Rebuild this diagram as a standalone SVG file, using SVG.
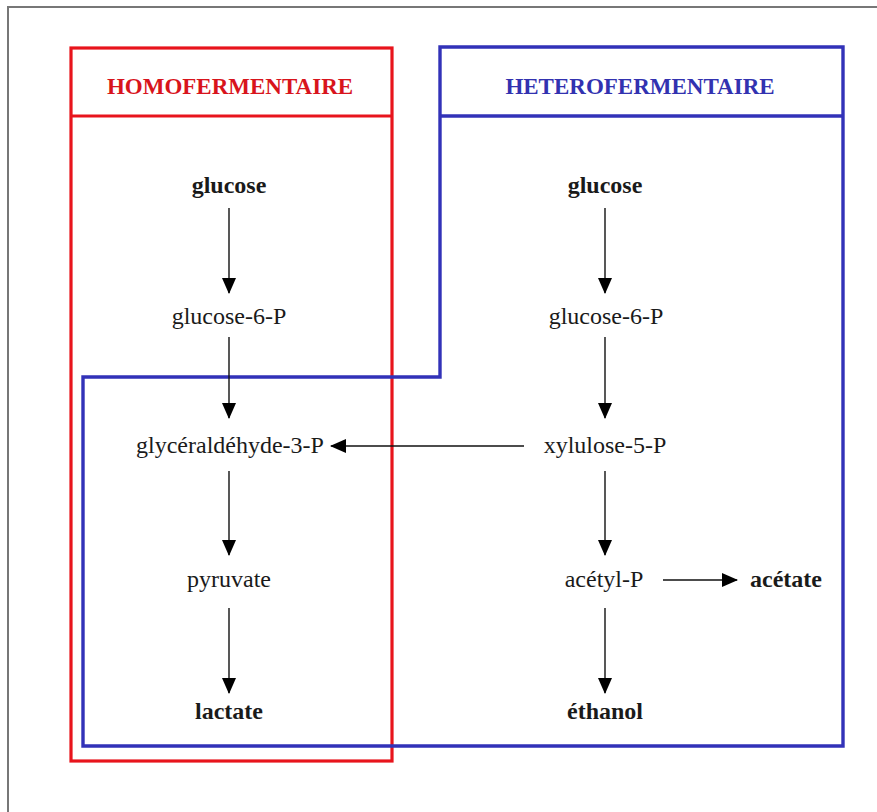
<svg xmlns="http://www.w3.org/2000/svg" width="877" height="812" viewBox="0 0 877 812">
<defs>
<style>
text{font-family:"Liberation Serif","Times New Roman",serif;font-size:24px;fill:#1a1a1a;text-anchor:middle}
.b{font-weight:bold}
.h{font-weight:bold;font-size:23px}
.conn line{stroke:#111;stroke-width:1.4}
</style>
<marker id="ah" viewBox="0 0 16 14" refX="15" refY="7" markerWidth="16" markerHeight="14" markerUnits="userSpaceOnUse" orient="auto">
<path d="M0,0 L16,7 L0,14 Z" fill="#000"/>
</marker>
</defs>
<rect x="0" y="0" width="877" height="812" fill="#fff"/>
<path d="M8,812 V7 H877" fill="none" stroke="#777" stroke-width="2"/>
<g id="homo-box">
<rect x="71" y="48" width="321" height="713" fill="none" stroke="#e8141c" stroke-width="3.2"/>
<line x1="71" y1="116" x2="392" y2="116" stroke="#e8141c" stroke-width="3.2"/>
<text class="h" x="230" y="94" fill="#d8141c" style="fill:#d8141c">HOMOFERMENTAIRE</text>
</g>
<g id="hetero-box">
<path d="M440,47 H843 V746 H83 V377 H440 Z" fill="none" stroke="#3232b8" stroke-width="3.4"/>
<line x1="440" y1="116" x2="843" y2="116" stroke="#3232b8" stroke-width="3.4"/>
<text class="h" x="640" y="94" style="fill:#3232b0">HETEROFERMENTAIRE</text>
</g>
<g class="conn" id="connectors">
<line x1="229" y1="208" x2="229" y2="293" marker-end="url(#ah)"/>
<line x1="229" y1="337" x2="229" y2="418" marker-end="url(#ah)"/>
<line x1="229" y1="471" x2="229" y2="555" marker-end="url(#ah)"/>
<line x1="229" y1="608" x2="229" y2="693" marker-end="url(#ah)"/>
<line x1="605" y1="208" x2="605" y2="293" marker-end="url(#ah)"/>
<line x1="605" y1="337" x2="605" y2="418" marker-end="url(#ah)"/>
<line x1="605" y1="471" x2="605" y2="555" marker-end="url(#ah)"/>
<line x1="605" y1="608" x2="605" y2="693" marker-end="url(#ah)"/>
<line x1="524" y1="446" x2="331" y2="446" marker-end="url(#ah)"/>
<line x1="663" y1="580" x2="737" y2="580" marker-end="url(#ah)"/>
</g>
<g id="n-glucose-l"><text class="b" x="229" y="193">glucose</text></g>
<g id="n-g6p-l"><text x="229" y="324">glucose-6-P</text></g>
<g id="n-g3p"><text x="230" y="453">glycéraldéhyde-3-P</text></g>
<g id="n-pyruvate"><text x="229" y="587">pyruvate</text></g>
<g id="n-lactate"><text class="b" x="229" y="719">lactate</text></g>
<g id="n-glucose-r"><text class="b" x="605" y="193">glucose</text></g>
<g id="n-g6p-r"><text x="606" y="324">glucose-6-P</text></g>
<g id="n-x5p"><text x="605" y="453">xylulose-5-P</text></g>
<g id="n-acetylp"><text x="604" y="587">acétyl-P</text></g>
<g id="n-acetate"><text class="b" x="786" y="587">acétate</text></g>
<g id="n-ethanol"><text class="b" x="605" y="719">éthanol</text></g>
</svg>
